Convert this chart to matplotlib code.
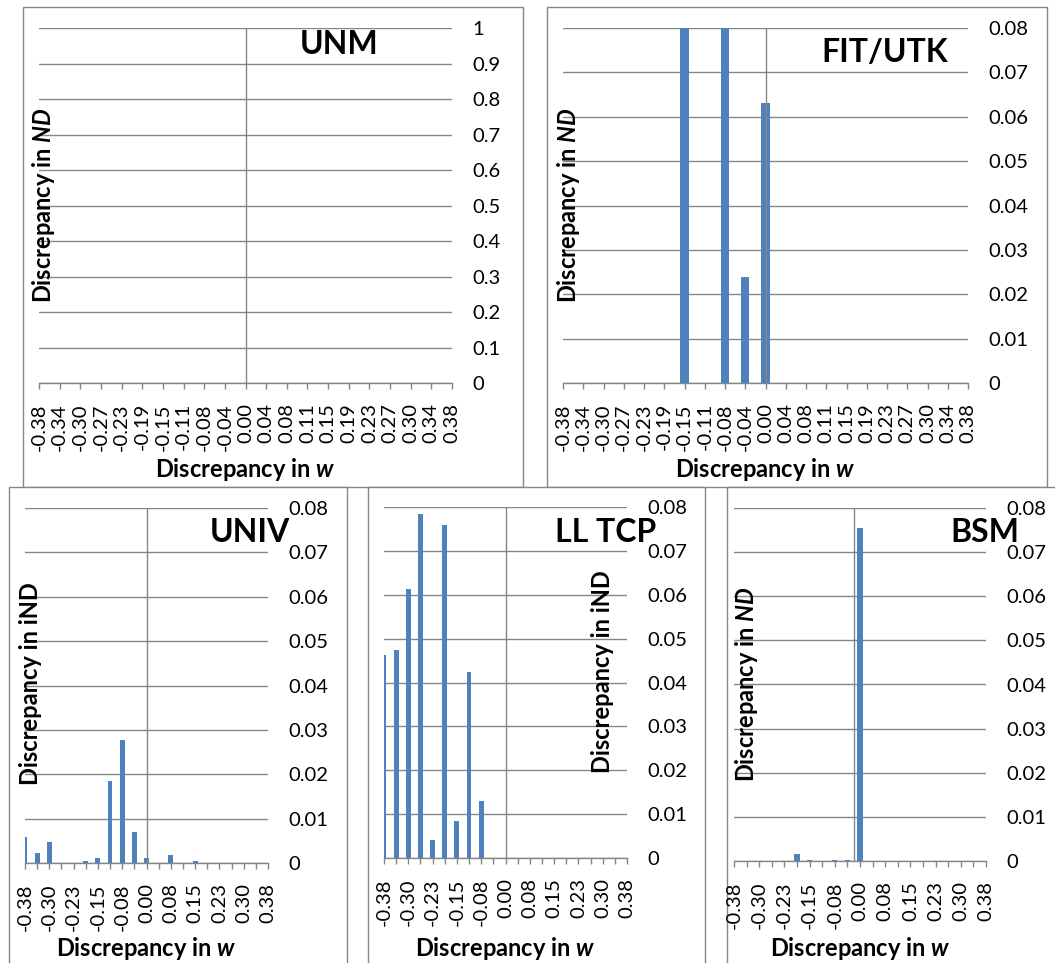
import matplotlib
matplotlib.use("Agg")
import matplotlib.pyplot as plt
from matplotlib.patches import Rectangle

plt.rcParams['font.family'] = ['Lato', 'DejaVu Sans']
plt.rcParams['mathtext.fontset'] = 'custom'
plt.rcParams['mathtext.rm'] = 'Lato:bold'
plt.rcParams['mathtext.bf'] = 'Lato:bold'
plt.rcParams['mathtext.it'] = 'Lato:bold:italic'

W, H = 1055, 963
GRID = '#868686'
BAR = '#4f81bd'

# categories (discrepancy in w)
w_labels = ['-0.38', '-0.34', '-0.30', '-0.27', '-0.23', '-0.19', '-0.15',
            '-0.11', '-0.08', '-0.04', '0.00', '0.04', '0.08', '0.11',
            '0.15', '0.19', '0.23', '0.27', '0.30', '0.34', '0.38']

# series values (discrepancy in ND / iND)
unm_vals = [0, 0, 0, 0, 0, 0, 0, 0, 0, 0, 0,
            0, 0, 0, 0, 0, 0, 0, 0, 0, 0]
fit_vals = [0, 0, 0, 0, 0, 0, 0.1, 0, 0.1, 0.024, 0.063,
            0, 0, 0, 0, 0, 0, 0, 0, 0, 0]
univ_vals = [0.0059, 0.0023, 0.0047, 0, 0, 0.0004, 0.0011, 0.0185, 0.0278, 0.0069, 0.0011,
             0, 0.0017, 0, 0.0005, 0, 0, 0, 0, 0, 0]
lltcp_vals = [0.0462, 0.0473, 0.0613, 0.0784, 0.0042, 0.0758, 0.0084, 0.0424, 0.0131, 0, 0,
              0, 0, 0, 0, 0, 0, 0, 0, 0, 0]
bsm_vals = [0, 0, 0, 0, 0, 0.0016, 0.0002, 0, 0.0002, 0.0002, 0.0755,
            0, 0, 0, 0.0001, 0, 0, 0, 0, 0, 0]

# y tick labels
unm_yticks = [0, 0.1, 0.2, 0.3, 0.4, 0.5, 0.6, 0.7, 0.8, 0.9, 1.0]
unm_ylabels = ['0', '0.1', '0.2', '0.3', '0.4', '0.5', '0.6', '0.7', '0.8', '0.9', '1']
small_yticks = [0, 0.01, 0.02, 0.03, 0.04, 0.05, 0.06, 0.07, 0.08]
small_ylabels = ['0', '0.01', '0.02', '0.03', '0.04', '0.05', '0.06', '0.07', '0.08']


def fig_box(x0, y0, x1, y1):
    return [x0 / W, 1 - y1 / H, (x1 - x0) / W, (y1 - y0) / H]


fig = plt.figure(figsize=(W / 100, H / 100), dpi=100)

# panel frames (bottom row sits on top of the top row)
frames = [((23, 7, 523, 487), -3), ((547, 7, 1047, 487), -3),
          ((9, 487, 347, 1000), -2), ((368, 487, 705, 1000), -2), ((727, 487, 1070, 1000), -2)]
for (x0, y0, x1, y1), z in frames:
    fig.patches.append(Rectangle((x0 / W, 1 - y1 / H), (x1 - x0) / W, (y1 - y0) / H,
                                 transform=fig.transFigure, facecolor='white',
                                 edgecolor=GRID, lw=1.0, zorder=z))

panels = [
    dict(title='UNM', vals=unm_vals, ylab='Discrepancy in $ND$', yt=unm_yticks, ytl=unm_ylabels,
         box=(39, 28, 452, 383), cross=10, every=1, title_xy=(378, 44), ylab_xy=(44, 205), xlab_y=469),
    dict(title='FIT/UTK', vals=fit_vals, ylab='Discrepancy in $ND$', yt=small_yticks, ytl=small_ylabels,
         box=(563, 28, 968, 383), cross=10, every=1, title_xy=(948, 52), ylab_xy=(569, 205), xlab_y=469),
    dict(title='UNIV', vals=univ_vals, ylab='Discrepancy in iND', yt=small_yticks, ytl=small_ylabels,
         box=(25, 508, 268, 863), cross=10, every=2, title_xy=(290, 532), ylab_xy=(31, 684), xlab_y=948),
    dict(title='LL TCP', vals=lltcp_vals, ylab='Discrepancy in iND', yt=small_yticks, ytl=small_ylabels,
         box=(384, 507, 627, 858), cross=10, every=2, title_xy=(656, 532), ylab_xy=(602, 672), xlab_y=948),
    dict(title='BSM', vals=bsm_vals, ylab='Discrepancy in $ND$', yt=small_yticks, ytl=small_ylabels,
         box=(734, 508, 986, 861), cross=9.5, every=2, title_xy=(1019, 532), ylab_xy=(747, 684), xlab_y=948),
]

for p in panels:
    ax = fig.add_axes(fig_box(*p['box']))
    ax.set_facecolor('none')
    x = list(range(len(w_labels)))
    ax.bar(x, p['vals'], width=0.4, color=BAR, zorder=3)
    ax.axvline(p['cross'], color=GRID, lw=1.0, zorder=4)
    ax.set_xlim(0, len(w_labels) - 1)
    ax.set_ylim(p['yt'][0], p['yt'][-1])

    ax.set_yticks(p['yt'])
    ax.set_yticklabels(p['ytl'])
    ax.yaxis.tick_right()
    ax.tick_params(axis='y', length=0, pad=15, labelsize=14.5)
    ax.grid(axis='y', color=GRID, lw=1.0)
    ax.set_axisbelow(True)

    ax.set_xticks(x)
    ax.set_xticklabels([lab if i % p['every'] == 0 else '' for i, lab in enumerate(w_labels)])
    ax.tick_params(axis='x', length=4.5, width=1.0, color=GRID, pad=10, labelsize=14.5,
                   labelrotation=90)

    for side in ['top', 'left', 'right']:
        ax.spines[side].set_visible(False)
    ax.spines['bottom'].set_color(GRID)
    ax.spines['bottom'].set_linewidth(1.0)

    x0, y0, x1, y1 = p['box']
    fig.text(p['title_xy'][0] / W, 1 - p['title_xy'][1] / H, p['title'], ha='right', va='center',
             fontsize=23, fontweight='bold', zorder=6)
    fig.text(p['ylab_xy'][0] / W, 1 - p['ylab_xy'][1] / H, p['ylab'], rotation=90,
             ha='center', va='center', fontsize=17, fontweight='bold', zorder=6)
    fig.text((x0 + x1) / 2 / W, 1 - p['xlab_y'] / H, 'Discrepancy in $w$', ha='center',
             va='center', fontsize=17, fontweight='bold', zorder=6)

fig.savefig('out.png', dpi=100)
